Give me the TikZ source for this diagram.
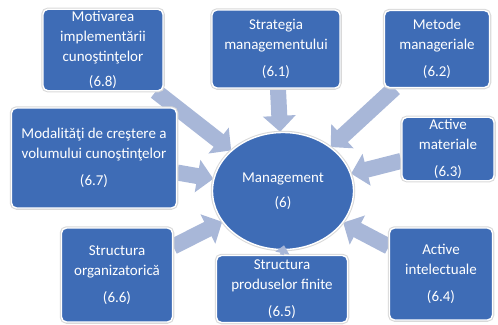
\documentclass[tikz,border=0pt]{standalone}
\usepackage{fontspec}
\setmainfont{Carlito}
\usetikzlibrary{shapes.geometric,arrows.meta,backgrounds}
\definecolor{boxblue}{RGB}{62,108,182}
\definecolor{arrowblue}{RGB}{168,183,216}

\begin{document}
\begin{tikzpicture}[x=1pt,y=-1pt,
    box/.style={rectangle,rounded corners=5pt,fill=boxblue,draw=white,line width=1.4pt,
      preaction={draw=gray!30,line width=3.5pt},text=white,align=center,inner sep=2pt,
      font=\fontsize{15}{20}\selectfont},
    arr/.style={draw=arrowblue,line width=16pt,-{Triangle[length=16pt,width=32pt]}}]
    \useasboundingbox (0,0) rectangle (498,324);
    % central element
    \node[box,ellipse,minimum width=141pt,minimum height=117pt] (mg) at (283,191) {Management\\[5pt](6)};
    % surrounding elements
    \node[box,minimum width=120pt,minimum height=80pt] (m68) at (103,50) {Motivarea\\implementării\\cunoştinţelor\\[5pt](6.8)};
    \node[box,minimum width=128pt,minimum height=78pt] (m61) at (276,49) {Strategia\\managementului\\[7pt](6.1)};
    \node[box,minimum width=105pt,minimum height=77pt] (m62) at (437,49) {Metode\\manageriale\\[7pt](6.2)};
    \node[box,minimum width=92pt,minimum height=62pt] (m63) at (448,149) {Active\\materiale\\[7pt](6.3)};
    \node[box,minimum width=103pt,minimum height=92pt] (m64) at (441,274) {Active\\intelectuale\\[7pt](6.4)};
    \node[box,minimum width=131pt,minimum height=67pt] (m65) at (282,289) {Structura\\produselor finite\\[7pt](6.5)};
    \node[box,minimum width=111pt,minimum height=94pt] (m66) at (117,275) {Structura\\organizatorică\\[7pt](6.6)};
    \node[box,minimum width=165pt,minimum height=100pt] (m67) at (94,158) {Modalităţi de creştere a\\volumului cunoştinţelor\\[7pt](6.7)};
    % arrows
    \begin{scope}[on background layer]
    \foreach \n in {m61,m62,m63,m64,m66,m67,m68}
      \draw[arr] (\n) -- (mg);
    \end{scope}
    \draw[draw=arrowblue,line width=4pt,-{Triangle[length=8pt,width=14pt]},shorten >=-5pt] (m65.north) -- (mg.south);
  \end{tikzpicture}
\end{document}
